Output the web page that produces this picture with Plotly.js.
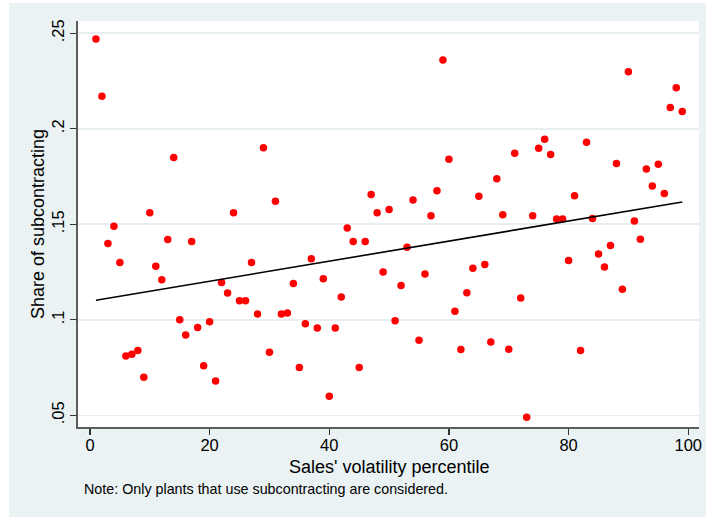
<!DOCTYPE html>
<html>
<head>
<meta charset="utf-8">
<script src="https://cdn.plot.ly/plotly-3.0.1.min.js"></script>
<style>
html,body{margin:0;padding:0;background:#ffffff;width:706px;height:518px;overflow:hidden;}
#chart{position:absolute;left:9px;top:3px;width:697px;height:514px;}
</style>
</head>
<body>
<div id="chart"></div>
<script>
// Sales' volatility percentile
var percentile = [1,2,3,4,5,6,7,8,9,10,11,12,13,14,15,16,17,18,19,20,
  21,22,23,24,25,26,27,28,29,30,31,32,33,34,35,36,37,38,39,40,
  41,42,43,44,45,46,47,48,49,50,51,52,53,54,55,56,57,58,59,60,
  61,62,63,64,65,66,67,68,69,70,71,72,73,74,75,76,77,78,79,80,
  81,82,83,84,85,86,87,88,89,90,91,92,93,94,95,96,97,98,99];
// Share of subcontracting
var share = [0.247,0.217,0.140,0.149,0.130,0.081,0.082,0.084,0.070,0.156,
  0.128,0.121,0.142,0.185,0.100,0.092,0.141,0.096,0.076,0.099,
  0.068,0.1195,0.114,0.156,0.110,0.110,0.130,0.103,0.190,0.083,
  0.162,0.103,0.1036,0.119,0.075,0.098,0.132,0.0957,0.1215,0.060,
  0.0957,0.112,0.148,0.141,0.075,0.141,0.1656,0.156,0.125,0.1577,
  0.0995,0.118,0.138,0.1627,0.0893,0.124,0.1545,0.1676,0.236,0.184,
  0.1045,0.0844,0.1142,0.127,0.1647,0.129,0.0884,0.1738,0.155,0.0846,
  0.1872,0.1114,0.049,0.1545,0.1898,0.1945,0.1865,0.1528,0.1528,0.131,
  0.165,0.0839,0.1929,0.153,0.1344,0.1277,0.1389,0.1818,0.116,0.2298,
  0.1517,0.1422,0.179,0.170,0.1814,0.1661,0.2111,0.2214,0.209];
// Fitted line endpoints
var fitX = [1, 99];
var fitY = [0.1102, 0.1617];
// Tick labels
var xTickVals = [0,20,40,60,80,100];
var xTickText = ['0','20','40','60','80','100'];
var yTickVals = [0.05,0.1,0.15,0.2,0.25];
var yTickText = ['.05','.1','.15','.2','.25'];
var xTitle = "Sales' volatility percentile";
var yTitle = 'Share of subcontracting';
var noteText = 'Note: Only plants that use subcontracting are considered.';

var font = 'Liberation Sans, Arial, Helvetica, sans-serif';
var bg = '#eaf2f3';

var traces = [
  {x: percentile, y: share, type: 'scatter', mode: 'markers',
   marker: {color: '#ff0000', size: 7.5, line: {width: 0}}, showlegend: false, hoverinfo: 'x+y'},
  {x: fitX, y: fitY, type: 'scatter', mode: 'lines',
   line: {color: '#000000', width: 1.6}, showlegend: false, hoverinfo: 'skip'}
];

var layout = {
  width: 697, height: 514,
  margin: {l: 69, r: 7, t: 18, b: 90, pad: 0},
  paper_bgcolor: bg,
  plot_bgcolor: '#ffffff',
  font: {family: font, color: '#000000', size: 17},
  xaxis: {
    range: [-2.0, 101.8], tickmode: 'array', tickvals: xTickVals, ticktext: xTickText,
    showgrid: false, zeroline: false,
    showline: true, linecolor: '#5c5c5c', linewidth: 1.6, mirror: false,
    ticks: 'outside', ticklen: 6, tickwidth: 1.3, tickcolor: '#333333',
    ticklabelstandoff: -3,
    tickfont: {family: font, size: 16.5, color: '#000000'}
  },
  yaxis: {
    range: [0.0439, 0.2564], tickmode: 'array', tickvals: yTickVals, ticktext: yTickText,
    tickangle: -90,
    showgrid: true, gridcolor: '#e6eef0', gridwidth: 1.6, zeroline: false,
    showline: true, linecolor: '#5c5c5c', linewidth: 1.6, mirror: false,
    ticks: 'outside', ticklen: 6, tickwidth: 1.3, tickcolor: '#333333',
    tickfont: {family: font, size: 16.5, color: '#000000'}
  },
  annotations: [
    {text: xTitle, xref: 'paper', yref: 'paper', x: (389 - 78) / 621, y: (427 - 467) / 406,
     xanchor: 'center', yanchor: 'middle', showarrow: false,
     font: {family: font, size: 18, color: '#000000'}},
    {text: yTitle, xref: 'paper', yref: 'paper', x: (38 - 78) / 621, y: 0.5, textangle: -90,
     xanchor: 'center', yanchor: 'middle', showarrow: false,
     font: {family: font, size: 18, color: '#000000'}},
    {text: noteText, xref: 'paper', yref: 'paper',
     x: (82 - 78) / 621, y: (427 - 489) / 406, xanchor: 'left', yanchor: 'middle', showarrow: false,
     font: {family: font, size: 14.3, color: '#000000'}}
  ]
};

Plotly.newPlot('chart', traces, layout, {displayModeBar: false, staticPlot: true});
</script>
</body>
</html>
